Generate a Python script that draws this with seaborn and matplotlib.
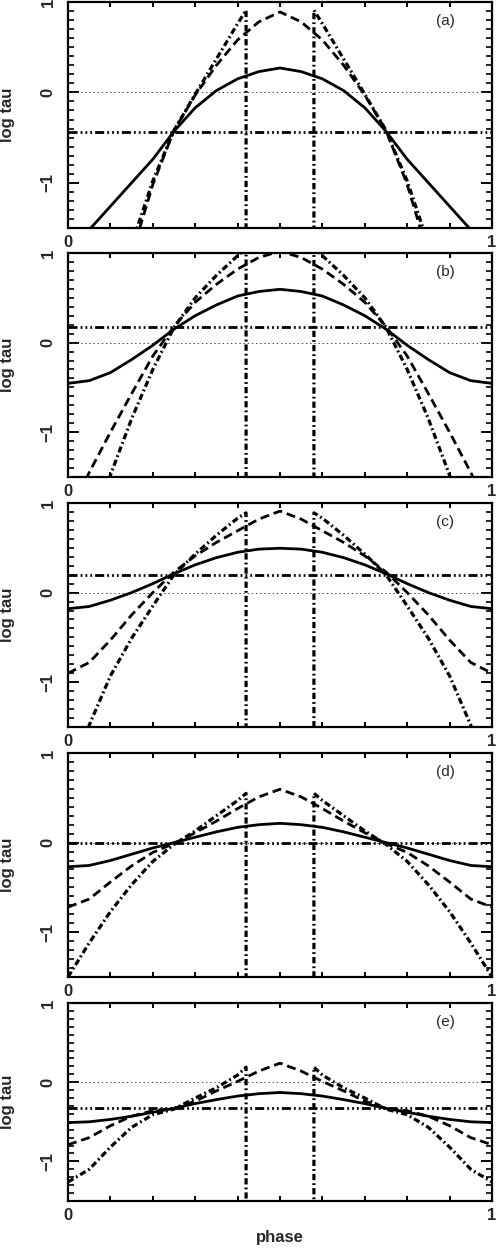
import numpy as np
import pandas as pd
import matplotlib
matplotlib.use("Agg")
import matplotlib.pyplot as plt
import seaborn as sns
from matplotlib.ticker import FixedLocator, FixedFormatter, NullFormatter

# ---------------- data ----------------
PHASE = [0.00, 0.05, 0.10, 0.15, 0.20, 0.25, 0.30, 0.35, 0.40, 0.45, 0.50,
         0.55, 0.60, 0.65, 0.70, 0.75, 0.80, 0.85, 0.90, 0.95, 1.00]
# dash-dot curve: rises to x=0.42, drops off-scale, comes back at x=0.58
PHASE_DD = [0.00, 0.05, 0.10, 0.15, 0.20, 0.25, 0.30, 0.35, 0.40, 0.42, 0.42,
            0.58, 0.58, 0.60, 0.65, 0.70, 0.75, 0.80, 0.85, 0.90, 0.95, 1.00]
BELOW = -3.0  # off-scale (log tau -> -inf)

PANELS = ["(a)", "(b)", "(c)", "(d)", "(e)"]
HLEVEL = [-0.435, 0.17, 0.20, 0.0, -0.33]

SOLID_A = [-1.75, -1.52, -1.26, -1.00, -0.74, -0.43, -0.17, 0.02, 0.15, 0.23, 0.27,
           0.23, 0.15, 0.02, -0.17, -0.43, -0.74, -1.00, -1.26, -1.52, -1.75]
DASH_A = [-3.5, -3.0, -2.4, -1.8, -1.02, -0.42, -0.03, 0.30, 0.58, 0.78, 0.89,
          0.78, 0.58, 0.30, -0.03, -0.42, -1.02, -1.8, -2.4, -3.0, -3.5]
DDOT_A = [-4.0, -3.3, -2.5, -1.68, -0.98, -0.42, -0.02, 0.37, 0.76, 0.91, BELOW,
          BELOW, 0.91, 0.76, 0.37, -0.02, -0.42, -0.98, -1.68, -2.5, -3.3, -4.0]

SOLID_B = [-0.455, -0.425, -0.335, -0.19, -0.03, 0.15, 0.30, 0.42, 0.52, 0.57, 0.595,
           0.57, 0.52, 0.42, 0.30, 0.15, -0.03, -0.19, -0.335, -0.425, -0.455]
DASH_B = [-1.95, -1.45, -1.00, -0.57, -0.15, 0.18, 0.45, 0.65, 0.82, 0.95, 1.02,
          0.95, 0.82, 0.65, 0.45, 0.18, -0.15, -0.57, -1.00, -1.45, -1.95]
DDOT_B = [-3.2, -2.3, -1.48, -0.85, -0.30, 0.17, 0.50, 0.75, 0.97, 1.05, BELOW,
          BELOW, 1.05, 0.97, 0.75, 0.50, 0.17, -0.30, -0.85, -1.48, -2.3, -3.2]

SOLID_C = [-0.18, -0.155, -0.085, 0.00, 0.10, 0.21, 0.31, 0.39, 0.45, 0.485, 0.495,
           0.485, 0.45, 0.39, 0.31, 0.21, 0.10, 0.00, -0.085, -0.155, -0.18]
DASH_C = [-0.90, -0.78, -0.53, -0.25, 0.00, 0.23, 0.41, 0.56, 0.69, 0.82, 0.91,
          0.82, 0.69, 0.56, 0.41, 0.23, 0.00, -0.25, -0.53, -0.78, -0.90]
DDOT_C = [-2.1, -1.48, -0.93, -0.51, -0.15, 0.20, 0.43, 0.64, 0.83, 0.89, BELOW,
          BELOW, 0.89, 0.83, 0.64, 0.43, 0.20, -0.15, -0.51, -0.93, -1.48, -2.1]

SOLID_D = [-0.27, -0.255, -0.20, -0.13, -0.06, 0.00, 0.06, 0.12, 0.17, 0.20, 0.215,
           0.20, 0.17, 0.12, 0.06, 0.00, -0.06, -0.13, -0.20, -0.255, -0.27]
DASH_D = [-0.72, -0.63, -0.44, -0.26, -0.11, -0.01, 0.11, 0.24, 0.38, 0.51, 0.595,
          0.51, 0.38, 0.24, 0.11, -0.01, -0.11, -0.26, -0.44, -0.63, -0.72]
DDOT_D = [-1.50, -1.12, -0.77, -0.47, -0.21, -0.02, 0.13, 0.30, 0.47, 0.55, BELOW,
          BELOW, 0.55, 0.47, 0.30, 0.13, -0.02, -0.21, -0.47, -0.77, -1.12, -1.50]

SOLID_E = [-0.51, -0.50, -0.47, -0.43, -0.38, -0.33, -0.27, -0.22, -0.175, -0.145, -0.13,
           -0.145, -0.175, -0.22, -0.27, -0.33, -0.38, -0.43, -0.47, -0.50, -0.51]
DASH_E = [-0.79, -0.70, -0.55, -0.43, -0.36, -0.33, -0.24, -0.11, 0.01, 0.14, 0.24,
          0.14, 0.01, -0.11, -0.24, -0.33, -0.36, -0.43, -0.55, -0.70, -0.79]
DDOT_E = [-1.26, -1.10, -0.82, -0.57, -0.41, -0.34, -0.20, -0.07, 0.09, 0.19, BELOW,
          BELOW, 0.19, 0.09, -0.07, -0.20, -0.34, -0.41, -0.57, -0.82, -1.10, -1.26]

SOLIDS = [SOLID_A, SOLID_B, SOLID_C, SOLID_D, SOLID_E]
DASHES = [DASH_A, DASH_B, DASH_C, DASH_D, DASH_E]
DDOTS = [DDOT_A, DDOT_B, DDOT_C, DDOT_D, DDOT_E]

Y_TICKS = [-1, 0, 1]
Y_TICKLABELS = ["\u22121", "0", "1"]
X_TICKS = [0, 1]
X_TICKLABELS = ["0", "1"]

# ---------------- style ----------------
sns.set_theme(style="white")
plt.rcParams['font.family'] = ['Liberation Sans', 'DejaVu Sans']
plt.rcParams['lines.scale_dashes'] = False

W, H = 496, 1250
fig = plt.figure(figsize=(W / 100, H / 100), dpi=100)

# panel boxes in pixels (top, bottom)
BOXES = [(2, 228), (253, 477), (503, 727), (753, 977), (1003, 1201)]
L, R = 68, 492

LW = 2.0
for i, (top, bot) in enumerate(BOXES):
    ax = fig.add_axes([L / W, (H - bot) / H, (R - L) / W, (bot - top) / H])
    ax.set_facecolor("white")
    ax.set_xlim(0, 1)
    ax.set_ylim(-1.5, 1)

    # dotted zero line
    ax.axhline(0, color="#444444", lw=0.7, ls=(0, (1, 2)), zorder=1)
    # dash-dot-dot-dot horizontal level
    ax.axhline(HLEVEL[i], color="black", lw=LW,
               ls=(0, (6.5, 2.2, 1.3, 2.2, 1.3, 2.2, 1.3, 2.2)), zorder=2)

    df_s = pd.DataFrame({"phase": PHASE, "logtau": SOLIDS[i]})
    df_d = pd.DataFrame({"phase": PHASE, "logtau": DASHES[i]})
    df_dd = pd.DataFrame({"phase": PHASE_DD, "logtau": DDOTS[i]})

    sns.lineplot(data=df_s, x="phase", y="logtau", ax=ax, color="black", lw=LW,
                 estimator=None, sort=False, zorder=3)
    sns.lineplot(data=df_d, x="phase", y="logtau", ax=ax, color="black", lw=LW,
                 linestyle=(0, (6.5, 3.5)), estimator=None, sort=False, zorder=3)
    sns.lineplot(data=df_dd, x="phase", y="logtau", ax=ax, color="black", lw=LW + 0.3,
                 linestyle=(0, (4.5, 2.2, 1.3, 2.2)), estimator=None, sort=False, zorder=3)

    # spines
    for s in ax.spines.values():
        s.set_visible(True)
        s.set_color("black")
        s.set_linewidth(1.6)

    # ticks
    ax.xaxis.set_major_locator(FixedLocator(X_TICKS))
    ax.xaxis.set_major_formatter(FixedFormatter(X_TICKLABELS))
    ax.xaxis.set_minor_locator(FixedLocator([k / 10 for k in range(1, 10)]))
    ax.yaxis.set_major_locator(FixedLocator(Y_TICKS))
    ax.yaxis.set_major_formatter(FixedFormatter(Y_TICKLABELS))
    ax.yaxis.set_minor_locator(FixedLocator([k / 10 for k in range(-15, 11)]))
    ax.yaxis.set_minor_formatter(NullFormatter())

    ax.tick_params(axis="x", which="both", direction="in", top=True, bottom=True,
                   length=3.8, width=1.4, color="black", labelsize=12, pad=5)
    ax.tick_params(axis="y", which="major", direction="in", left=True, right=True,
                   length=8, width=1.4, color="black", labelsize=12, pad=9,
                   labelrotation=90)
    ax.tick_params(axis="y", which="minor", direction="in", left=True, right=True,
                   length=4, width=1.2, color="black")
    for lab in ax.get_xticklabels() + ax.get_yticklabels():
        lab.set_fontweight("bold")
    for lab in ax.get_yticklabels():
        lab.set_verticalalignment("center")

    ax.set_xlabel("")
    ax.set_ylabel("log tau", fontsize=12, fontweight="bold")
    ax.yaxis.set_label_coords((15 - L) / (R - L), 0.5)

    ax.text(0.89, 1 - 19 / (bot - top), PANELS[i], transform=ax.transAxes,
            ha="center", va="center", fontsize=11)

    if i == 4:
        ax.set_xlabel("phase", fontsize=12, fontweight="bold", labelpad=5)

fig.savefig("out.png", dpi=100)
